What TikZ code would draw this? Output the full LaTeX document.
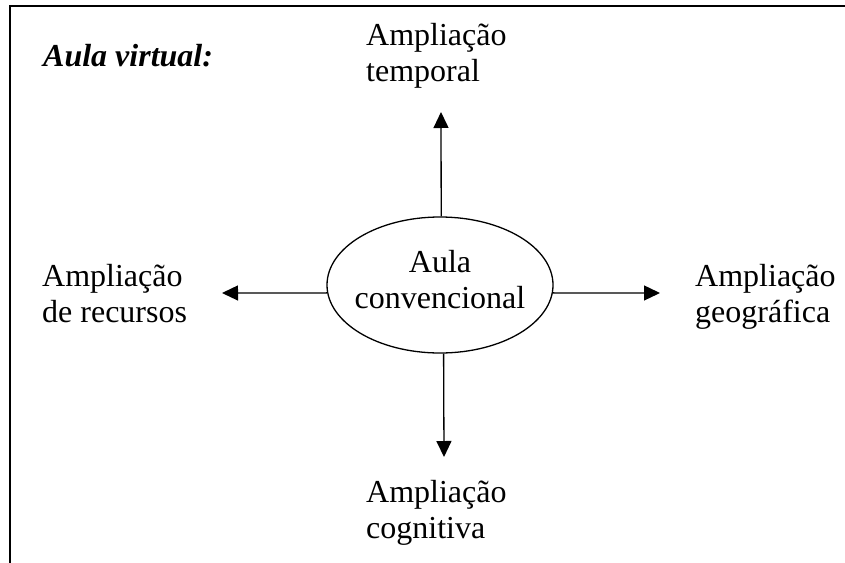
\documentclass[tikz,border=0pt]{standalone}
\usepackage{fontspec}
\setmainfont{Liberation Serif}
\usetikzlibrary{arrows.meta,shapes.geometric}
\begin{document}
\begin{tikzpicture}[x=1pt,y=-1pt,
  lbl/.style={font=\fontsize{32}{36}\selectfont, inner sep=0pt, align=left, anchor=base west},
  arr/.style={line width=1.3pt, -{Triangle[width=15pt,length=16pt]}},
  framestyle/.style={line width=2pt}]
\useasboundingbox (0,0) rectangle (845,562);
\coordinate (fbl) at (10,570);
\coordinate (ftl) at (10,6);
\coordinate (ftr) at (850,6);
\draw[framestyle] (fbl) -- (ftl) -- (ftr);
\node[draw, ellipse, minimum width=226pt, minimum height=136pt, inner sep=0pt,
      line width=1.3pt] (ell) at (440,285) {};
\node[lbl, align=center, anchor=base] (elltext) at (440,308) {Aula\\convencional};
\node[lbl, font=\fontsize{32}{36}\selectfont\bfseries\itshape] (title) at (43,66) {Aula virtual:};
\node[lbl] (top) at (366,81) {Ampliação\\temporal};
\node[lbl] (left) at (42,322) {Ampliação\\de recursos};
\node[lbl] (right) at (695,322) {Ampliação\\geográfica};
\node[lbl] (bottom) at (366,538) {Ampliação\\cognitiva};
\coordinate (tipT) at (441,112);
\coordinate (tipB) at (444,457);
\coordinate (tipL) at (222,293);
\coordinate (tipR) at (660,293);
\draw[arr] (ell.89) -- (tipT);
\draw[arr] (ell.273.4) -- (tipB);
\draw[arr] (ell.184) -- (tipL);
\draw[arr] (ell.356) -- (tipR);
\end{tikzpicture}
\end{document}
